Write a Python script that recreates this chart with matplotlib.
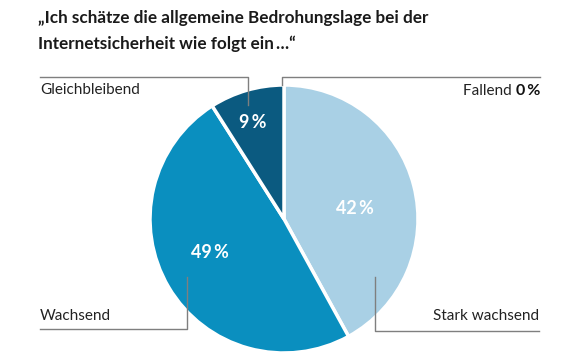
import matplotlib
matplotlib.use('Agg')
import matplotlib.pyplot as plt
import numpy as np

plt.rcParams['font.family'] = ['Lato', 'DejaVu Sans']

# Data
categories = ['Stark wachsend', 'Wachsend', 'Gleichbleibend', 'Fallend']
values = [42, 49, 9, 0]
colors = ['#a9d0e5', '#0a8fbf', '#0b5a80', '#0b5a80']
title = '\u201eIch sch\u00e4tze die allgemeine Bedrohungslage bei der\nInternetsicherheit wie folgt ein\u2009\u2026\u201c'

W, H = 580, 355
fig = plt.figure(figsize=(W / 100, H / 100), dpi=100, facecolor='white')
ax = fig.add_axes([0, 0, 1, 1])

def py(y):
    # pixel row (from top) -> data y
    return H - y

cx, cy, r = 284, py(219), 134

# only non-zero slices are drawn
vals = [v for v in values if v > 0]
cols = [c for v, c in zip(values, colors) if v > 0]
ax.pie(vals, colors=cols, startangle=90, counterclock=False, center=(cx, cy),
       radius=r, wedgeprops=dict(edgecolor='white', linewidth=2.5), frame=True)
ax.set_xlim(0, W)
ax.set_ylim(0, H)
ax.set_aspect('equal')
ax.axis('off')

# percentage labels inside the slices
pct_pos = {'Stark wachsend': (355, 208), 'Wachsend': (210, 252), 'Gleichbleibend': (253, 123)}
for cat, v in zip(categories, values):
    if cat in pct_pos:
        x, y = pct_pos[cat]
        ax.text(x, py(y), f'{v}\u2009%', color='white', fontsize=13, fontweight='bold',
                ha='center', va='center')

# leader lines
lc = '#7f7f7f'
lw = 1.0
ax.plot([40, 248, 248], [py(77), py(77), py(105)], color=lc, lw=lw)
ax.plot([282, 282, 540], [py(85), py(77), py(77)], color=lc, lw=lw)
ax.plot([40, 187, 187], [py(329), py(329), py(277)], color=lc, lw=lw)
ax.plot([375, 375, 539], [py(277), py(331), py(331)], color=lc, lw=lw)

# category labels
lab = dict(fontsize=11, color='#222222')
ax.text(40, py(90), categories[2], ha='left', va='center', **lab)
ax.text(40, py(316), categories[1], ha='left', va='center', **lab)
ax.text(539, py(316), categories[0], ha='right', va='center', **lab)
t = ax.text(540, py(91), f'{values[3]}\u2009%', ha='right', va='center',
            fontsize=11.5, fontweight='bold', color='#111111')
ax.annotate(categories[3] + ' ', xycoords=t, xy=(0, 0.5), ha='right', va='center',
            fontsize=11, color='#222222')

# title
ax.text(38, py(31), title, ha='left', va='center', fontsize=12.3, fontweight='bold',
        color='#1a1a1a', linespacing=1.65)

fig.savefig('out.png', dpi=100, facecolor='white')
